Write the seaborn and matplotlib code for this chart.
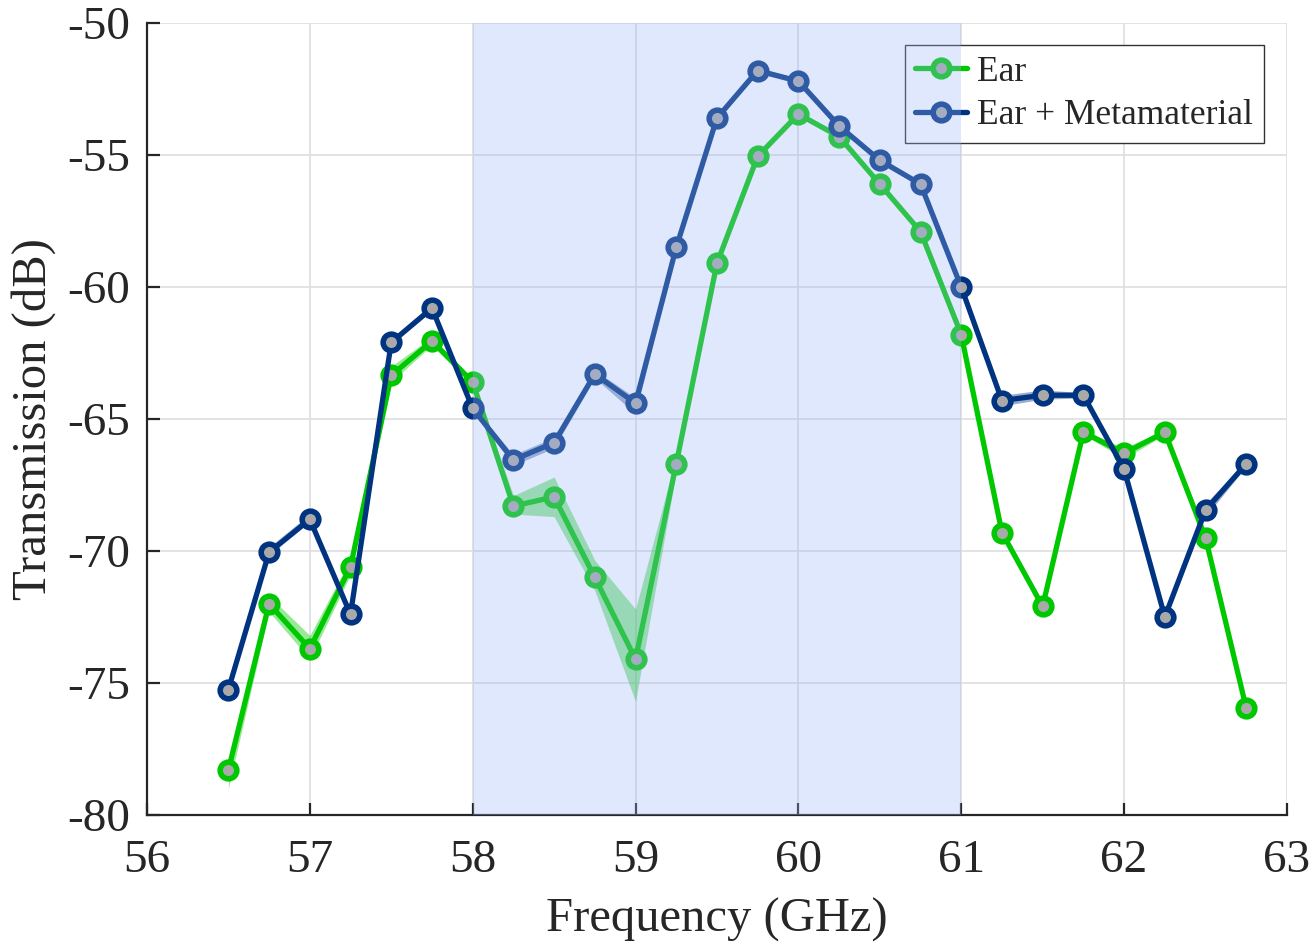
import numpy as np
import pandas as pd
import seaborn as sns
import matplotlib
matplotlib.use("Agg")
import matplotlib.pyplot as plt

# ---------------- data ----------------
freq = [56.5, 56.75, 57.0, 57.25, 57.5, 57.75, 58.0, 58.25, 58.5, 58.75,
        59.0, 59.25, 59.5, 59.75, 60.0, 60.25, 60.5, 60.75, 61.0, 61.25,
        61.5, 61.75, 62.0, 62.25, 62.5, 62.75]

ear = [-78.3, -72.0, -73.7, -70.6, -63.35, -62.05, -63.6, -68.3, -67.95, -71.0,
       -74.1, -66.7, -59.1, -55.05, -53.45, -54.3, -56.1, -57.9, -61.8, -69.3,
       -72.1, -65.5, -66.3, -65.5, -69.5, -75.95]
ear_lo = [-79.0, -72.3, -74.1, -70.9, -63.6, -62.2, -63.75, -68.6, -68.7, -71.5,
          -75.7, -67.0, -59.3, -55.15, -53.55, -54.4, -56.2, -58.0, -61.9, -69.4,
          -72.2, -65.6, -66.5, -65.6, -69.6, -76.05]
ear_hi = [-78.0, -71.7, -73.2, -70.3, -63.0, -61.9, -63.45, -67.9, -67.2, -70.35,
          -72.2, -66.4, -58.9, -54.95, -53.35, -54.2, -56.0, -57.8, -61.7, -69.2,
          -72.0, -65.4, -66.1, -65.4, -69.4, -75.85]

meta = [-75.25, -70.05, -68.8, -72.4, -62.1, -60.8, -64.6, -66.55, -65.9, -63.3,
        -64.4, -58.5, -53.6, -51.8, -52.2, -53.9, -55.2, -56.1, -60.0, -64.3,
        -64.1, -64.1, -66.9, -72.5, -68.45, -66.7]
meta_lo = [-75.35, -70.15, -68.9, -72.5, -62.2, -60.9, -64.7, -66.75, -66.1, -63.45,
           -64.8, -58.6, -53.7, -51.9, -52.3, -54.0, -55.3, -56.2, -60.1, -64.5,
           -64.25, -64.2, -67.0, -72.6, -68.7, -66.8]
meta_hi = [-75.15, -69.85, -68.6, -72.3, -62.0, -60.7, -64.5, -66.35, -65.7, -63.15,
           -64.2, -58.4, -53.5, -51.7, -52.1, -53.8, -55.1, -56.0, -59.9, -64.1,
           -63.9, -64.0, -66.8, -72.4, -68.2, -66.6]

labels = ["Ear", "Ear + Metamaterial"]
colors = ["#00c800", "#003380"]
x_ticks = [56, 57, 58, 59, 60, 61, 62, 63]
y_ticks = [-80, -75, -70, -65, -60, -55, -50]


def long_frame(mid, lo, hi):
    # three samples per frequency: the median is the curve, min/max the band
    return pd.DataFrame({
        "freq": list(freq) * 3,
        "val": list(lo) + list(mid) + list(hi),
    })


frames = [long_frame(ear, ear_lo, ear_hi), long_frame(meta, meta_lo, meta_hi)]

# ---------------- style ----------------
sns.set_style("ticks")
plt.rcParams["font.family"] = ["Liberation Serif", "DejaVu Serif"]

fig = plt.figure(figsize=(13.12, 9.44), dpi=100)
ax = fig.add_axes([0.112, 0.1367, 0.8689, 0.8389])

for df, lab, col in zip(frames, labels, colors):
    sns.lineplot(data=df, x="freq", y="val", ax=ax,
                 estimator="median", errorbar=("pi", 100),
                 color=col, label=lab, lw=3.8,
                 marker="o", markersize=12, markerfacecolor="#a9a9a9",
                 markeredgecolor=col, markeredgewidth=4.0,
                 err_kws={"alpha": 0.4, "lw": 0}, zorder=3)

# shaded band (drawn on top, as in the reference)
ax.axvspan(58, 61, color=(152/255, 181/255, 248/255), alpha=0.31, lw=0, zorder=6)

ax.set_xlim(56, 63)
ax.set_ylim(-80, -50)
ax.set_xticks(x_ticks)
ax.set_yticks(y_ticks)
ax.set_xticklabels([str(t) for t in x_ticks])
ax.set_yticklabels([str(t) for t in y_ticks])

ax.grid(True, color="#dedede", lw=1.2)
ax.set_axisbelow(True)

for s in ["top", "right"]:
    ax.spines[s].set_visible(False)
for s in ["left", "bottom"]:
    ax.spines[s].set_color("#262626")
    ax.spines[s].set_linewidth(1.6)

ax.tick_params(direction="in", length=9, width=1.6, color="#262626",
               labelsize=34, labelcolor="#262626")
ax.tick_params(axis="x", pad=18)
ax.tick_params(axis="y", pad=12)

ax.set_xlabel("Frequency (GHz)", fontsize=35, color="#262626", labelpad=11)
ax.set_ylabel("Transmission (dB)", fontsize=35, color="#262626", labelpad=8)

leg = ax.legend(loc="upper right", bbox_to_anchor=(0.9798, 0.9722),
                borderaxespad=0, fontsize=25.5, handlelength=1.45,
                handletextpad=0.3, borderpad=0.3, labelspacing=0.3,
                fancybox=False, framealpha=1, edgecolor="#333333")
leg.get_frame().set_linewidth(1.0)

fig.savefig("out.png", dpi=100)
